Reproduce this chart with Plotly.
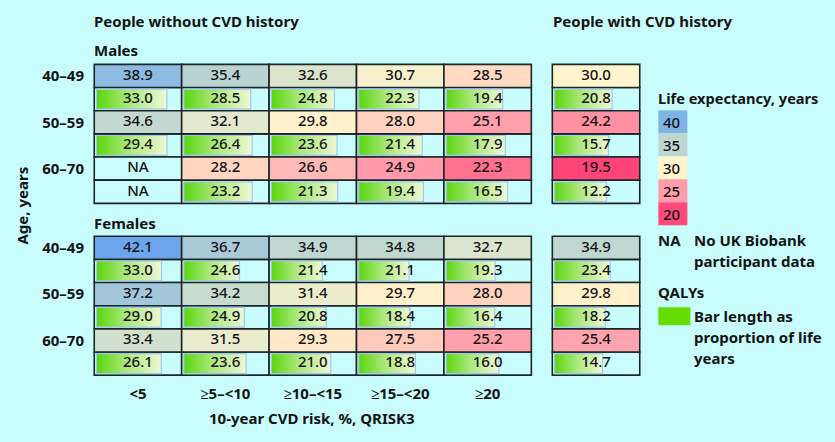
import plotly.graph_objects as go
from plotly.colors import sample_colorscale

# ---------------- data ----------------
risk_groups = ["<5", "≥5–<10", "≥10–<15", "≥15–<20", "≥20"]
age_groups = ["40–49", "50–59", "60–70"]

# life expectancy (years), people without CVD history; rows = age groups, cols = risk groups
male_le = [
    [38.9, 35.4, 32.6, 30.7, 28.5],
    [34.6, 32.1, 29.8, 28.0, 25.1],
    [None, 28.2, 26.6, 24.9, 22.3],
]
male_qaly = [
    [33.0, 28.5, 24.8, 22.3, 19.4],
    [29.4, 26.4, 23.6, 21.4, 17.9],
    [None, 23.2, 21.3, 19.4, 16.5],
]
female_le = [
    [42.1, 36.7, 34.9, 34.8, 32.7],
    [37.2, 34.2, 31.4, 29.7, 28.0],
    [33.4, 31.5, 29.3, 27.5, 25.2],
]
female_qaly = [
    [33.0, 24.6, 21.4, 21.1, 19.3],
    [29.0, 24.9, 20.8, 18.4, 16.4],
    [26.1, 23.6, 21.0, 18.8, 16.0],
]
# people with CVD history; one value per age group
male_cvd_le = [30.0, 24.2, 19.5]
male_cvd_qaly = [20.8, 15.7, 12.2]
female_cvd_le = [34.9, 29.8, 25.4]
female_cvd_qaly = [23.4, 18.2, 14.7]

legend_levels = [40, 35, 30, 25, 20]

# ---------------- style / layout ----------------
W, H = 835, 442
BG = "#c9fdfd"
BORDER = "#1d2626"
TXT = "#141414"
FONT = "Noto Sans"

CMIN, CMAX = 19.5, 42.5
stops = [(19.5, "#ff4477"), (20, "#ff4a7b"), (25, "#ff9dab"), (30, "#fff4cc"),
         (35, "#bdd6d0"), (40, "#7fb2e6"), (42.5, "#6aa2ee")]
colorscale = [[(v - CMIN) / (CMAX - CMIN), c] for v, c in stops]

UX, UY = 87.4, 23.17      # px per unit
X0PX, Y0PX = 94, 64       # pixel position of x=0, y=0
xr = [-0.06, 6.3]
yr = [13.5, -0.06]
ml = X0PX + xr[0] * UX
pw = (xr[1] - xr[0]) * UX
mr = W - ml - pw
mt = Y0PX + yr[1] * UY
ph = (yr[0] - yr[1]) * UY
mb = H - mt - ph

CVD_COL = 5.24            # left edge of the CVD column
SEX_OFF = [0.0, 7.42]     # top of male / female blocks
PADX, PADY = 0.025, 0.07


def pxx(x):
    return (x - ml) / pw


def pxy(y):
    return (H - mb - y) / ph


# assemble cells
le_x, le_y, le_v = [], [], []
bg_x, bg_y = [], []
txt_x, txt_y, txt_s = [], [], []
qbars = []

blocks = [
    (SEX_OFF[0], male_le, male_qaly, male_cvd_le, male_cvd_qaly),
    (SEX_OFF[1], female_le, female_qaly, female_cvd_le, female_cvd_qaly),
]
for off, le, qa, cle, cqa in blocks:
    for i in range(len(age_groups)):
        lefts = list(range(len(risk_groups))) + [CVD_COL]
        les = list(le[i]) + [cle[i]]
        qas = list(qa[i]) + [cqa[i]]
        for left, lv, qv in zip(lefts, les, qas):
            yl = off + 2 * i + 0.5
            yq = off + 2 * i + 1.5
            if lv is None:
                bg_x.append(left); bg_y.append(yl)
            else:
                le_x.append(left); le_y.append(yl); le_v.append(lv)
            bg_x.append(left); bg_y.append(yq)
            txt_x += [left + 0.5, left + 0.5]
            txt_y += [yl, yq]
            txt_s += ["NA" if lv is None else f"{lv:.1f}",
                      "NA" if qv is None else f"{qv:.1f}"]
            if qv is not None and lv is not None:
                x0 = left + PADX
                x1 = x0 + (qv / lv) * (1 - 2 * PADX)
                qbars.append((x0, x1, yq - 0.5 + PADY, yq + 0.5 - PADY))

fig = go.Figure()

fig.add_trace(go.Bar(
    orientation="h", base=bg_x, x=[1] * len(bg_x), y=bg_y, width=1,
    marker=dict(color=BG, line=dict(color=BORDER, width=1.6)),
    hoverinfo="skip", showlegend=False))

fig.add_trace(go.Bar(
    orientation="h", base=le_x, x=[1] * len(le_x), y=le_y, width=1,
    marker=dict(color=le_v, colorscale=colorscale, cmin=CMIN, cmax=CMAX,
                line=dict(color=BORDER, width=1.6)),
    hoverinfo="skip", showlegend=False))

for x0, x1, y0, y1 in qbars:
    fig.add_trace(go.Scatter(
        x=[x0, x1, x1, x0, x0], y=[y0, y0, y1, y1, y0],
        mode="lines", fill="toself",
        fillgradient=dict(type="horizontal",
                          colorscale=[[0, "#5ad60c"], [0.45, "#a9e77a"], [1, "#eef8d4"]]),
        line=dict(color="#9ec8ef", width=1.2),
        hoverinfo="skip", showlegend=False))

fig.add_trace(go.Scatter(
    x=txt_x, y=txt_y, text=txt_s, mode="text",
    textfont=dict(family=FONT, size=15, color=TXT, weight=500),
    hoverinfo="skip", showlegend=False))

# ---------------- annotations ----------------
ann = []


def text(x, y, s, size=15, anchor="left", weight="bold", angle=0):
    ann.append(dict(x=pxx(x), y=pxy(y), xref="paper", yref="paper", text=s,
                    showarrow=False, xanchor=anchor, yanchor="middle",
                    textangle=angle,
                    font=dict(family=FONT, size=size, color=TXT, weight=weight)))


text(92, 21, "People without CVD history")
text(551, 21, "People with CVD history")
text(92, 50, "Males")
text(92, 223, "Females")
text(312, 418, "10-year CVD risk, %, QRISK3", anchor="center")
text(22, 205, "Age, years", anchor="center", angle=-90)

text(656, 98, "Life expectancy, years", size=14.6)
shapes = []
sw_cols = sample_colorscale(colorscale, [(v - CMIN) / (CMAX - CMIN) for v in legend_levels])
for k, (lev, col) in enumerate(zip(legend_levels, sw_cols)):
    yt = 110 + 23 * k
    shapes.append(dict(type="rect", xref="paper", yref="paper",
                       x0=pxx(658), x1=pxx(687), y0=pxy(yt), y1=pxy(yt + 23),
                       fillcolor=col, line=dict(width=0)))
    text(661, yt + 11.5, str(lev), weight=500)
text(656, 240, "NA")
text(692, 240, "No UK Biobank")
text(692, 261, "participant data")
text(656, 292, "QALYs")
shapes.append(dict(type="rect", xref="paper", yref="paper",
                   x0=pxx(658), x1=pxx(690), y0=pxy(307), y1=pxy(325),
                   fillcolor="#66dd00", line=dict(width=0)))
text(692, 316, "Bar length as")
text(692, 337, "proportion of life")
text(692, 358, "years")

fig.update_layout(
    width=W, height=H,
    margin=dict(l=ml, r=mr, t=mt, b=mb, pad=0),
    paper_bgcolor=BG, plot_bgcolor=BG,
    barmode="overlay",
    annotations=ann, shapes=shapes,
    xaxis=dict(range=xr, showgrid=False, zeroline=False, showline=False,
               tickmode="array", tickvals=[i + 0.5 for i in range(len(risk_groups))],
               ticktext=risk_groups, ticks="", ticklabelstandoff=6,
               tickfont=dict(family=FONT, size=15, color=TXT, weight="bold")),
    yaxis=dict(range=yr, showgrid=False, zeroline=False, showline=False,
               tickmode="array",
               tickvals=[off + 2 * i + 0.5 for off in SEX_OFF for i in range(len(age_groups))],
               ticktext=age_groups * 2, ticks="", ticklabelstandoff=4,
               tickfont=dict(family=FONT, size=15, color=TXT, weight="bold")),
    font=dict(family=FONT, color=TXT),
)

fig.write_html(
    "out.html",
    config=dict(displayModeBar=False),
    post_script=("document.body.style.margin='0';"
                 "document.body.style.background='" + BG + "';"
                 "document.documentElement.style.background='" + BG + "';"),
)
